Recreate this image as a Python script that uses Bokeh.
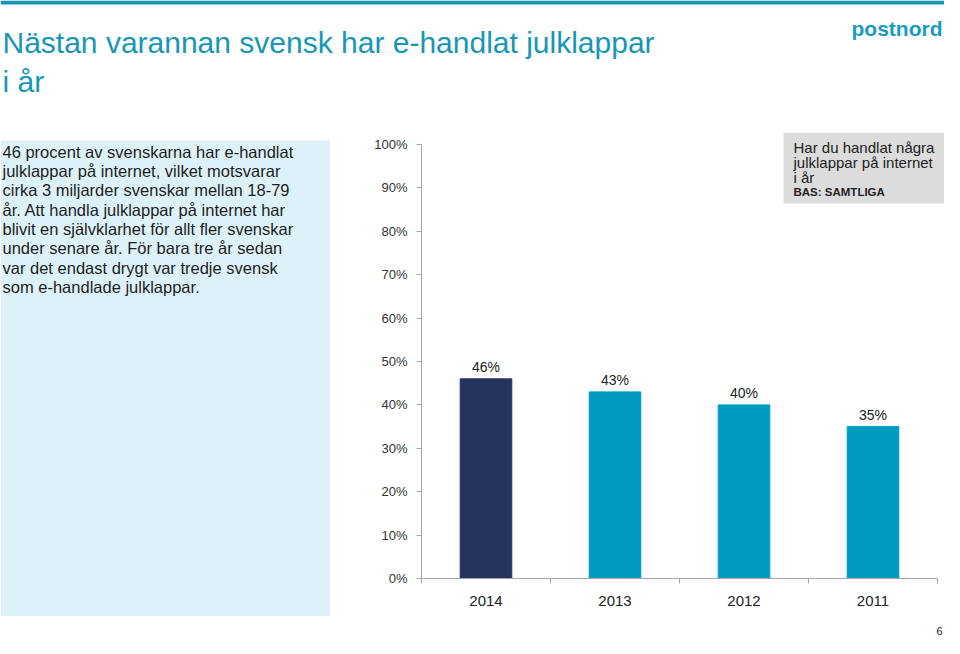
from bokeh.plotting import figure
from bokeh.layouts import column, row
from bokeh.models import (ColumnDataSource, LabelSet, Label, BoxAnnotation,
                          FixedTicker, PrintfTickFormatter, Range1d)
from bokeh.core.properties import value
from bokeh.embed import file_html
from bokeh.resources import INLINE

# ---- data ----
years = ["2014", "2013", "2012", "2011"]
shares = [46, 43, 40, 35]
bar_colors = ["#26335E", "#009BBE", "#009BBE", "#009BBE"]
y_ticks = [0, 10, 20, 30, 40, 50, 60, 70, 80, 90, 100]

title_lines = ["Nästan varannan svensk har e-handlat julklappar", "i år"]
body_lines = [
    "46 procent av svenskarna har e-handlat",
    "julklappar på internet, vilket motsvarar",
    "cirka 3 miljarder svenskar mellan 18-79",
    "år.  Att handla julklappar på internet har",
    "blivit en självklarhet för allt fler svenskar",
    "under senare år. För bara tre år sedan",
    "var det endast drygt var tredje svensk",
    "som e-handlade julklappar.",
]
note_lines = ["Har du handlat några", "julklappar på internet", "i år"]
note_base = "BAS: SAMTLIGA"
page_no = "6"

# ---- layout constants (page pixels) ----
W, H = 944, 638
HEAD_B = 132          # header bottom
ROW_B = 616           # bottom of middle row
LEFT_W = 330
AX_X, AX_Y = 421, 578  # chart origin on page
FONT = "Liberation Sans"
TEAL = "#1797B5"
PANEL = "#DDF2F8"
INK = "#1E1E1E"


def blank(width, height, y0, y1, fill="white"):
    f = figure(width=width, height=height, output_backend="svg",
               toolbar_location=None, x_range=Range1d(0, width),
               y_range=Range1d(y1, y0), x_axis_type=None, y_axis_type=None,
               min_border=0, title=None)
    f.outline_line_color = None
    f.grid.visible = False
    f.background_fill_color = fill
    f.border_fill_color = fill
    return f


def lab(f, X, Y, s, size, color=INK, style="normal", align="left"):
    # Y is the text baseline (page pixels); anchor at the text middle
    f.add_layout(Label(x=X, y=Y - 0.35 * size, text=s, text_font=FONT,
                       text_font_size=f"{size}px", text_color=color,
                       text_font_style=style, text_align=align,
                       text_baseline="middle"))


# ---- header ----
head = blank(W, HEAD_B, 0, HEAD_B)
head.add_layout(BoxAnnotation(left=0, right=W, top=0, bottom=4, fill_color=TEAL,
                              fill_alpha=1, line_color=None))
for i, s in enumerate(title_lines):
    lab(head, 2, 52 + i * 39, s, 30, TEAL)
lab(head, W - 2, 35, "postnord", 21, "#1A9BC0", "bold", "right")

# ---- left text panel ----
left = blank(LEFT_W, ROW_B - HEAD_B, HEAD_B, ROW_B)
left.add_layout(BoxAnnotation(left=0, right=LEFT_W, top=140, bottom=ROW_B,
                              fill_color=PANEL, fill_alpha=1, line_color=None,
                              level="underlay"))
for i, s in enumerate(body_lines):
    lab(left, 2, 157 + i * 19.3, s, 16.5)

# ---- chart ----
CH_W = W - LEFT_W
CH_H = ROW_B - HEAD_B
F_LEFT = AX_X - LEFT_W
F_BOTTOM = ROW_B - AX_Y
frame_w = CH_W - F_LEFT
frame_h = CH_H - F_BOTTOM
px_cat = 129.0             # pixels per category
px_pct = 4.34              # pixels per percent

xs = [i + 0.5 for i in range(len(years))]
src = ColumnDataSource(dict(x=xs, top=shares, color=bar_colors,
                            label=[f"{v}%" for v in shares]))

p = figure(width=CH_W, height=CH_H, output_backend="svg",
           toolbar_location=None,
           x_range=Range1d(0, frame_w / px_cat), y_range=Range1d(0, frame_h / px_pct),
           min_border_left=F_LEFT, min_border_right=0, min_border_top=0,
           min_border_bottom=F_BOTTOM, title=None)
p.outline_line_color = None
p.grid.visible = False
p.background_fill_color = "white"
p.border_fill_color = "white"

p.vbar(x="x", top="top", width=0.4, bottom=0, color="color", source=src)

p.add_layout(LabelSet(x="x", y="top", text="label", source=src, y_offset=7,
                      text_align="center", text_baseline="alphabetic",
                      text_font=value(FONT), text_font_size=value("14px"),
                      text_color=value("#222222")))

xa = p.xaxis[0]
xa.bounds = (0, len(years))
xa.ticker = FixedTicker(ticks=xs, minor_ticks=list(range(len(years) + 1)))
xa.major_label_overrides = {x: y for x, y in zip(xs, years)}
xa.major_tick_out = 0
xa.major_tick_in = 0
xa.minor_tick_out = 5
xa.minor_tick_in = 0
xa.axis_line_color = "#A6A6A6"
xa.minor_tick_line_color = "#A6A6A6"
xa.major_label_standoff = 12
xa.major_label_text_font = FONT
xa.major_label_text_font_size = "15px"
xa.major_label_text_color = "#222222"

ya = p.yaxis[0]
ya.bounds = (0, 100)
ya.ticker = FixedTicker(ticks=y_ticks, minor_ticks=[])
ya.formatter = PrintfTickFormatter(format="%d%%")
ya.major_tick_out = 5
ya.major_tick_in = 0
ya.axis_line_color = "#A6A6A6"
ya.major_tick_line_color = "#A6A6A6"
ya.major_label_standoff = 9
ya.major_label_text_font = FONT
ya.major_label_text_font_size = "13px"
ya.major_label_text_color = "#333333"


# annotations inside the chart frame, positions in page pixels
def fx(X):
    return X - AX_X


def fy(Y):
    return AX_Y - Y


p.add_layout(BoxAnnotation(left=fx(783), right=fx(W), top=fy(132), bottom=fy(203),
                           left_units="screen", right_units="screen",
                           top_units="screen", bottom_units="screen",
                           fill_color="#DCDCDC", fill_alpha=1, line_color=None,
                           level="underlay"))


def note(Y, s, size, style="normal"):
    p.add_layout(Label(x=fx(793), y=fy(Y - 0.35 * size), x_units="screen",
                       y_units="screen", text=s, text_font=FONT,
                       text_font_size=f"{size}px", text_font_style=style,
                       text_color="#222222", text_baseline="middle"))


for i, s in enumerate(note_lines):
    note(152 + i * 15, s, 15)
note(196, note_base, 11.5, "bold")

# ---- footer ----
foot = blank(W, H - ROW_B, ROW_B, H)
lab(foot, W - 2, 634, page_no, 11, "#222222", "normal", "right")

layout = column(head, row(column(left, spacing=0), p, spacing=0), foot, spacing=0)
open("out.html", "w").write(file_html(layout, INLINE))
